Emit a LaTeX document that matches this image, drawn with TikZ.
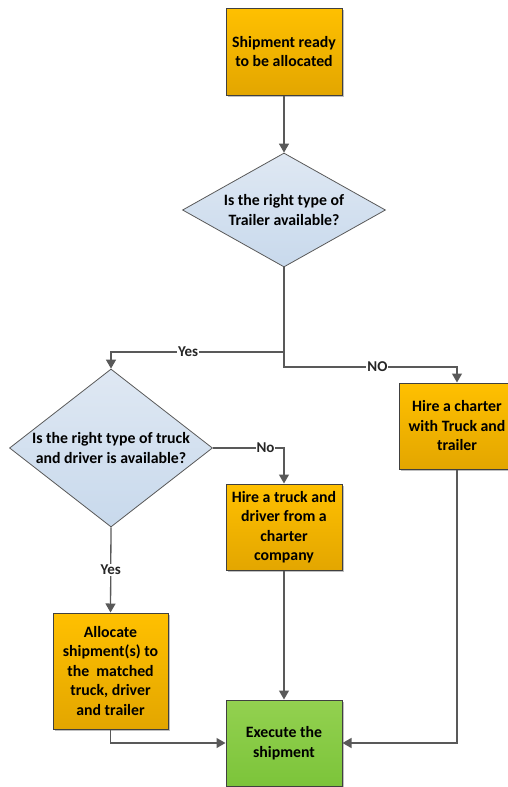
\documentclass[tikz,border=0pt]{standalone}
\usepackage{fontspec}
\setmainfont{Carlito}
\usetikzlibrary{shapes.geometric,arrows.meta,shadows}
\definecolor{orgtop}{HTML}{FFC000}
\definecolor{orgbot}{HTML}{E3A600}
\definecolor{bluetop}{HTML}{DFE8F3}
\definecolor{bluebot}{HTML}{C8D9EC}
\definecolor{grntop}{HTML}{93D150}
\definecolor{grnbot}{HTML}{7CC43A}
\definecolor{edgegray}{HTML}{404040}
\definecolor{linegray}{HTML}{595959}
\tikzset{
  boxbase/.style={rectangle, draw=edgegray, line width=1pt, inner sep=0pt,
    minimum width=116pt, align=center, font=\bfseries\fontsize{15.8}{19.5}\selectfont,
    drop shadow={shadow xshift=2pt, shadow yshift=-2pt, opacity=0.25, fill=black}},
  orangebox/.style={boxbase, top color=orgtop, bottom color=orgbot},
  greenbox/.style={boxbase, top color=grntop, bottom color=grnbot},
  decision/.style={diamond, draw=linegray, line width=0.8pt, inner sep=0pt,
    top color=bluetop, bottom color=bluebot},
  dtext/.style={align=center, inner sep=0pt, font=\bfseries\fontsize{15.8}{19.5}\selectfont},
  conn/.style={draw=linegray, line width=1.3pt, -{Triangle[length=9pt,width=10pt]}, color=linegray},
  plain/.style={draw=linegray, line width=1.3pt},
  lbl/.style={fill=white, inner sep=1pt, text=black!85, font=\bfseries\fontsize{15}{17}\selectfont}
}
\begin{document}
\begin{tikzpicture}[x=1pt,y=-1pt]
\useasboundingbox (0,0) rectangle (507,787);
% nodes
\node[orangebox, minimum height=87pt] (b1) at (284,51.5) {Shipment ready\\to be allocated};
\node[decision, minimum width=203pt, minimum height=114pt] (d1) at (284,210) {};
\node[dtext] (d1t) at (284,210) {Is the right type of\\Trailer available?};
\node[decision, minimum width=203pt, minimum height=158pt] (d2) at (111,448) {};
\node[dtext] (d2t) at (111,448) {Is the right type of truck\\and driver is available?};
\node[orangebox, minimum height=86pt] (c1) at (457,426) {Hire a charter\\with Truck and\\trailer};
\node[orangebox, minimum height=86pt] (c2) at (284,527) {Hire a truck and\\driver from a\\charter\\company};
\node[orangebox, minimum width=115pt, minimum height=116pt] (al) at (110.5,671) {Allocate\\shipment(s) to\\the\ \ matched\\truck, driver\\and trailer};
\node[greenbox, minimum height=86pt] (ex) at (284,743) {Execute the\\shipment};
\coordinate (j1) at (284,352);
\coordinate (j2) at (284,367);
% connectors
\draw[conn] (b1.south) -- (d1.north);
\draw[plain] (d1.south) -- (j1);
\draw[conn] (j1) -| node[lbl, pos=0.277] {Yes} (d2.north);
\draw[conn] (j1) -- (j2) -| node[lbl, pos=0.27] {NO} (c1.north);
\draw[conn] (d2.east) -| node[lbl, pos=0.37] {No} (c2.north);
\draw[conn] (d2.south) -- node[lbl] {Yes} (al.north);
\draw[conn] (c2.south) -- (ex.north);
\draw[conn] (al.south) |- (ex.west);
\draw[conn] (c1.south) |- (ex.east);
\end{tikzpicture}
\end{document}
